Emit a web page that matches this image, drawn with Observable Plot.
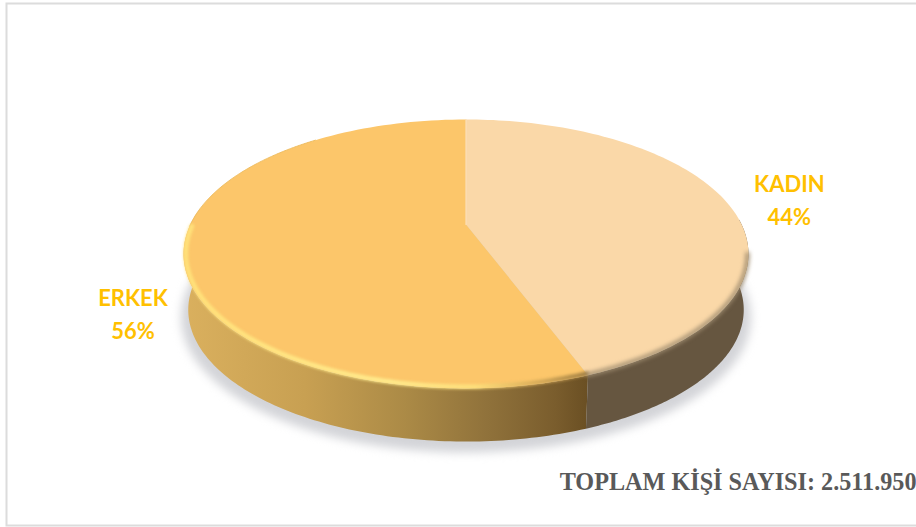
<!DOCTYPE html>
<html>
<head>
<meta charset="utf-8">
<script src="https://cdn.jsdelivr.net/npm/d3@7"></script>
<script src="https://cdn.jsdelivr.net/npm/@observablehq/plot@0.6"></script>
<style>
html,body{margin:0;padding:0;background:#fff}
svg{display:block;max-width:none}
</style>
</head>
<body>
<div id="chart"></div>
<script>
// data
const categories = ["KADIN", "ERKEK"];
const shares = [44, 56];
const totalLabel = "TOPLAM KİŞİ SAYISI: 2.511.950";
const topColors = ["#fad8a8", "#fcc66a"];
const labelColor = "#ffc000";

// 3D view of the disc: perspective projection of the unit circle
const view = {cx: 465.5, cy: 224, a: 275.6, b: 128, k: 0.219};
const wall = {cx: 465.5, cy: 280.5, a: 271, b: 125.4, k: 0.219};
function project(deg, r, v) {
  const t = deg * Math.PI / 180, u = r * Math.sin(t), w = -r * Math.cos(t), d = 1 - v.k * w;
  return {x: v.cx + v.a * u / d, y: v.cy + v.b * w / d};
}
// the view's foreshortening of angles
const warp = deg => deg + 2.7 * Math.sin(deg * Math.PI / 180);
const arc = (from, to, r = 1, v = view) => d3.range(0, 121).map(i => project(warp(from + (to - from) * i / 120), r, v));
const spans = [[0, shares[0] * 3.6], [shares[0] * 3.6, 360]];
const apex = {x: view.cx, y: view.cy};
const wedge = ([a, b], r = 1) => [apex, ...arc(a, b, r)];
const band = (a, b) => [...arc(a, b), ...arc(b, a, 1, wall)];
const shadowView = {...wall, cy: wall.cy + 7, a: wall.a + 7, b: wall.b + 3};
const boundary = spans[0][1];
const mid = spans.map(([a, b]) => (a + b) / 2);
const labels = [
  {...project(mid[0], 1.256, view), text: categories[0] + "\n" + shares[0] + "%"},
  {...project(mid[1], 1.19, wall), text: categories[1] + "\n" + shares[1] + "%"}
];

const defs = () => {
  const g = d3.create("svg:defs");
  g.html(`
    <linearGradient id="wallErkek" x1="0" x2="1" y1="0" y2="0">
      <stop offset="0" stop-color="#dab05e"/>
      <stop offset="0.3" stop-color="#c8a052"/>
      <stop offset="0.55" stop-color="#ab8a46"/>
      <stop offset="0.75" stop-color="#90723b"/>
      <stop offset="0.92" stop-color="#7a5d2d"/>
      <stop offset="1" stop-color="#6a4f23"/>
    </linearGradient>
    <linearGradient id="rimErkek" x1="0" x2="1" y1="0" y2="0">
      <stop offset="0" stop-color="#ffe27a"/>
      <stop offset="0.5" stop-color="#ffec8e"/>
      <stop offset="0.72" stop-color="#fde07c"/>
      <stop offset="0.86" stop-color="#dcb05c"/>
      <stop offset="1" stop-color="#a07e42"/>
    </linearGradient>`);
  return g.node();
};

const plot = Plot.plot({
  width: 916, height: 527, margin: 0,
  style: {background: "#fff", overflow: "visible"},
  x: {domain: [0, 916], range: [0, 916], axis: null},
  y: {domain: [0, 527], range: [0, 527], axis: null},
  marks: [
    defs,
    Plot.frame({stroke: "#dcdcdc", strokeWidth: 2, insetLeft: 6, insetTop: 3, insetBottom: 2, insetRight: -4}),
    // shadow
    Plot.line(arc(0, 360, 1, shadowView), {x: "x", y: "y", fill: "#d3d4d8", stroke: "none", imageFilter: "blur(5px)"}),
    // walls: only the front part of the rim shows
    Plot.line(band(boundary, 280), {x: "x", y: "y", fill: "url(#wallErkek)", stroke: "none"}),
    Plot.line(band(85, boundary), {x: "x", y: "y", fill: "#665640", stroke: "none"}),
    // top faces
    Plot.line(wedge(spans[0]), {x: "x", y: "y", fill: topColors[0], stroke: "none"}),
    Plot.line(wedge(spans[1]), {x: "x", y: "y", fill: topColors[1], stroke: "none"}),
    Plot.line([project(0, 1, view), apex], {x: "x", y: "y", stroke: "#fce0b8", strokeWidth: 1.2, imageFilter: "blur(0.5px)"}),
    // bevels
    Plot.line(arc(272, 322, 1), {x: "x", y: "y", stroke: "#efbe62", strokeWidth: 1}),
    Plot.line(arc(boundary, 272, 0.992), {x: "x", y: "y", stroke: "url(#rimErkek)", strokeWidth: 4.5, imageFilter: "blur(1.4px)"}),
    Plot.line(arc(100, boundary, 0.997), {x: "x", y: "y", stroke: "#a08d70", strokeWidth: 4, imageFilter: "blur(2px)"}),
    // labels
    Plot.text(labels, {x: "x", y: "y", text: "text", dy: 2, fill: labelColor, fontFamily: "Lato", fontWeight: 700, fontSize: 22, lineHeight: 1.5}),
    Plot.text([totalLabel], {frameAnchor: "bottom-right", dx: 0, dy: -37.5, fill: "#595959", fontFamily: "Liberation Serif", fontWeight: 700, fontSize: 24.2, lineAnchor: "bottom"})
  ]
});
document.getElementById("chart").append(plot);
</script>
</body>
</html>
